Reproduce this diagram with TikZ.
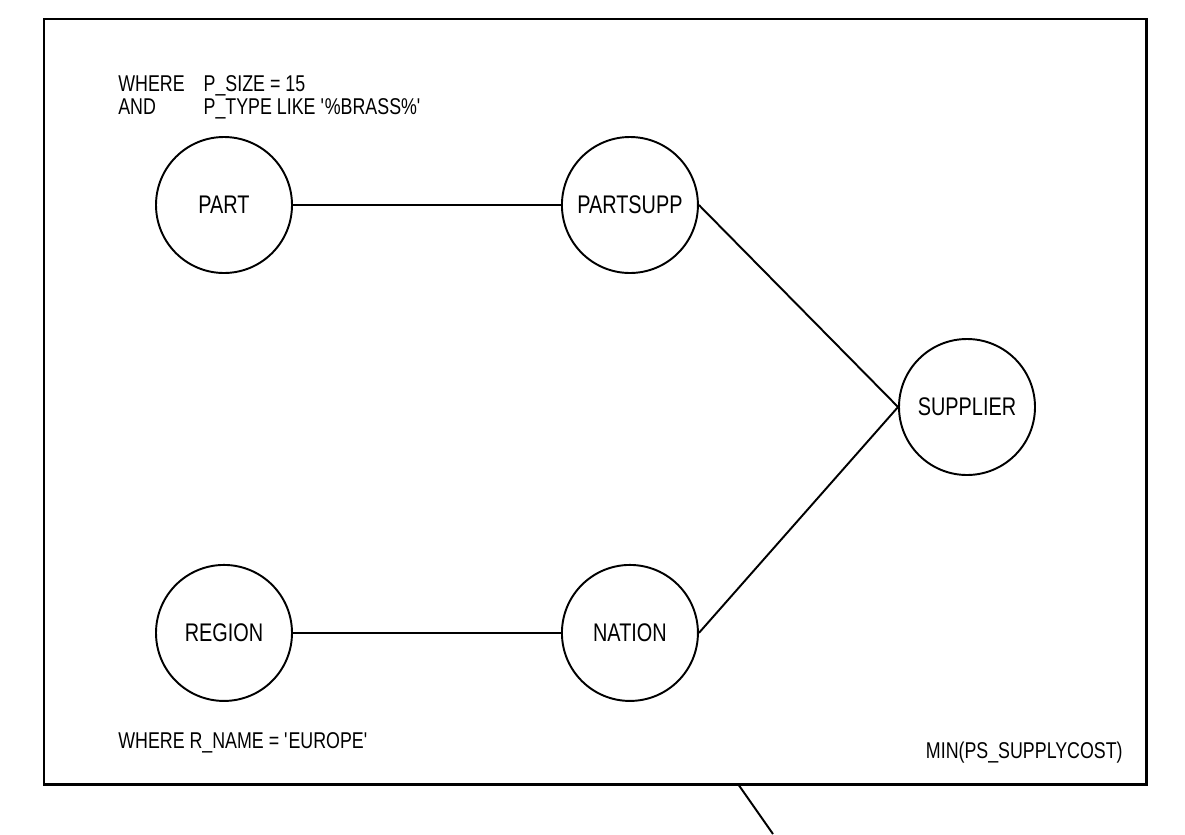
\documentclass[tikz,border=0pt]{standalone}
\usepackage{fontspec}
\setmainfont{Liberation Sans}[FakeStretch=0.78]
\usetikzlibrary{positioning}

\begin{document}
\begin{tikzpicture}[
    node distance=5.36cm,
    table/.style={draw=black, circle, line width=1.1pt, minimum size=2.72cm,
                  inner sep=0pt, fill=white, font=\fontsize{14.5}{17}\selectfont},
    link/.style={line width=1.1pt, color=black},
    note/.style={anchor=base west, inner sep=0pt, font=\fontsize{13}{13.6}\selectfont}
]
\useasboundingbox (0,0) rectangle (23.7,-16.68);
\draw[line width=1.7pt] (0.88,-0.38) rectangle (22.92,-15.68);

\node[table] (part) at (4.48,-4.1) {PART};
\node[table, right=of part] (partsupp) {PARTSUPP};
\node[table, below=5.8cm of part] (region) {REGION};
\node[table, right=of region] (nation) {NATION};
\node[table] (supplier) at (19.34,-8.14) {SUPPLIER};

\draw[link] (part) -- (partsupp);
\draw[link] (region) -- (nation);
\draw[link] (partsupp.east) -- (supplier.west);
\draw[link] (nation.east) -- (supplier.west);

\node[note] (partfilter) at (2.36,-1.82) {\begin{tabular}[t]{@{}l@{\hspace{0.38cm}}l@{}}
    WHERE & P\_SIZE = 15\\
    AND   & P\_TYPE LIKE \textquotesingle\%BRASS\%\textquotesingle
  \end{tabular}};
\node[note] (regionfilter) at (2.36,-14.96) {WHERE R\_NAME = \textquotesingle EUROPE\textquotesingle};
\node[note, anchor=base east] (agg) at (22.46,-15.16) {MIN(PS\_SUPPLYCOST)};

\coordinate (tail) at (14.76,-15.68);
\draw[link] (tail) -- ++(0.7,-1.0);
\end{tikzpicture}
\end{document}
